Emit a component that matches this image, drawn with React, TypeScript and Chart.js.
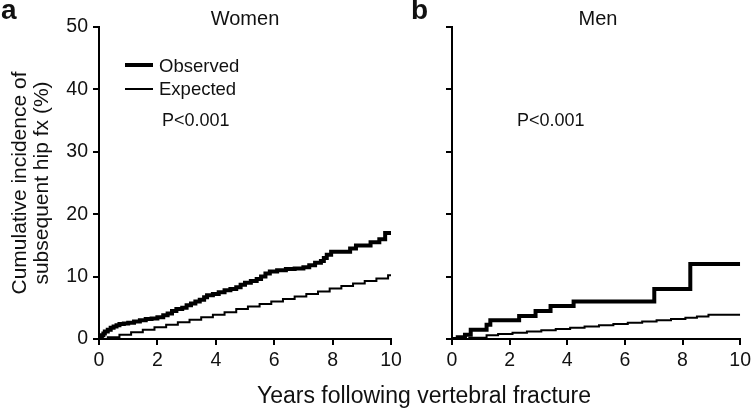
import React, { useEffect, useRef } from 'react';
import { Chart, registerables } from 'chart.js';

Chart.register(...registerables);

const FONT = '"Liberation Sans", Arial, Helvetica, sans-serif';
const INK = '#111111';

// ---- data (years following vertebral fracture, cumulative incidence %) ----
const xTickValues = [0, 2, 4, 6, 8, 10];
const yTickValues = [0, 10, 20, 30, 40, 50];

const womenObservedYears = [0, 0.05, 0.1, 0.15, 0.2, 0.3, 0.4, 0.5, 0.6, 0.7, 0.85, 1.0, 1.2, 1.4, 1.6, 1.8, 2.0, 2.2, 2.35, 2.5, 2.65, 2.85, 3.0, 3.15, 3.3, 3.45, 3.6, 3.7, 3.9, 4.1, 4.3, 4.5, 4.7, 4.85, 5.0, 5.2, 5.4, 5.55, 5.7, 5.85, 6.1, 6.4, 6.7, 7.0, 7.2, 7.4, 7.6, 7.7, 7.8, 7.95, 8.6, 8.8, 9.3, 9.6, 9.8, 10];
const womenObservedPct = [0, 0.3, 0.6, 0.9, 1.2, 1.5, 1.8, 2.0, 2.2, 2.4, 2.5, 2.6, 2.8, 3.0, 3.2, 3.3, 3.5, 3.8, 4.1, 4.5, 4.8, 5.0, 5.4, 5.7, 6.0, 6.3, 6.7, 7.0, 7.2, 7.5, 7.8, 8.0, 8.3, 8.7, 9.0, 9.3, 9.6, 10.0, 10.5, 10.8, 11.0, 11.2, 11.3, 11.5, 11.8, 12.2, 12.5, 13.0, 13.5, 14.0, 14.5, 15.0, 15.5, 16.0, 17.0, 17.0];

const womenExpectedYears = [0, 0.3, 0.7, 1.1, 1.5, 1.9, 2.3, 2.7, 3.1, 3.5, 3.9, 4.3, 4.7, 5.1, 5.5, 5.9, 6.3, 6.7, 7.1, 7.5, 7.9, 8.3, 8.7, 9.1, 9.5, 9.9, 10];
const womenExpectedPct = [0, 0.3, 0.7, 1.1, 1.5, 1.9, 2.3, 2.7, 3.1, 3.5, 3.9, 4.3, 4.8, 5.2, 5.6, 6.0, 6.4, 6.8, 7.2, 7.6, 8.1, 8.5, 8.9, 9.3, 9.7, 10.2, 10.2];

const menObservedYears = [0, 0.2, 0.45, 0.65, 1.2, 1.33, 2.33, 2.9, 3.42, 4.22, 7.02, 8.27, 10];
const menObservedPct = [0, 0.3, 0.7, 1.5, 2.3, 3.0, 3.7, 4.5, 5.3, 6.0, 8.0, 12.0, 12.0];

const menExpectedYears = [0, 0.6, 1.2, 1.6, 2.1, 2.6, 3.1, 3.6, 4.1, 4.6, 5.1, 5.6, 6.1, 6.6, 7.1, 7.6, 8.1, 8.5, 8.9, 10];
const menExpectedPct = [0, 0.2, 0.6, 0.8, 1.0, 1.2, 1.4, 1.6, 1.8, 2.0, 2.2, 2.4, 2.6, 2.8, 3.0, 3.2, 3.4, 3.6, 3.9, 3.9];

const yAxisTitle = ['Cumulative incidence of', 'subsequent hip fx (%)'];
const xAxisTitle = 'Years following vertebral fracture';

const toPoints = (xs: number[], ys: number[]) => xs.map((x, i) => ({ x, y: ys[i] }));

type PanelProps = {
  width: number;
  height: number;
  obsX: number[];
  obsY: number[];
  expX: number[];
  expY: number[];
  showYLabels: boolean;
  yAxisWidth: number;
  padRight: number;
};

function Panel(p: PanelProps) {
  const ref = useRef<HTMLCanvasElement | null>(null);
  useEffect(() => {
    if (!ref.current) return;
    const gridOpts = {
      drawOnChartArea: false,
      drawTicks: true,
      tickLength: 6,
      color: '#000',
      lineWidth: 2,
    };
    const chart = new Chart(ref.current, {
      type: 'line',
      data: {
        datasets: [
          {
            label: 'Observed',
            data: toPoints(p.obsX, p.obsY),
            borderColor: '#000',
            borderWidth: 4,
            stepped: 'before',
            pointRadius: 0,
            fill: false,
          },
          {
            label: 'Expected',
            data: toPoints(p.expX, p.expY),
            borderColor: '#000',
            borderWidth: 2,
            stepped: 'before',
            pointRadius: 0,
            fill: false,
          },
        ],
      },
      options: {
        animation: false,
        responsive: false,
        devicePixelRatio: 1,
        parsing: false,
        layout: { padding: { left: 0, right: p.padRight, top: 27, bottom: 30 } },
        plugins: { legend: { display: false }, tooltip: { enabled: false }, title: { display: false } },
        scales: {
          x: {
            type: 'linear',
            min: 0,
            max: 10,
            afterBuildTicks: (s: any) => {
              s.ticks = xTickValues.map((v) => ({ value: v }));
            },
            ticks: {
              font: { family: FONT, size: 19.5 },
              color: INK,
              padding: 4,
              maxRotation: 0,
              autoSkip: false,
            },
            grid: gridOpts,
            border: { display: true, color: '#000', width: 2 },
            afterFit: (s: any) => {
              s.height = 40;
            },
          },
          y: {
            type: 'linear',
            min: 0,
            max: 50,
            afterBuildTicks: (s: any) => {
              s.ticks = yTickValues.map((v) => ({ value: v }));
            },
            ticks: {
              display: p.showYLabels,
              font: { family: FONT, size: 19.5 },
              color: INK,
              padding: 5,
            },
            grid: gridOpts,
            border: { display: true, color: '#000', width: 2 },
            title: {
              display: p.showYLabels,
              text: yAxisTitle,
              font: { family: FONT, size: 21, lineHeight: 1.05 },
              color: INK,
              padding: { top: 9, bottom: 0 },
            },
            afterFit: (s: any) => {
              s.width = p.yAxisWidth;
            },
          },
        },
      },
    } as any);
    return () => chart.destroy();
  }, []);
  return <canvas ref={ref} width={p.width} height={p.height} style={{ display: 'block' }} />;
}

const txt = (extra: React.CSSProperties): React.CSSProperties => ({
  position: 'absolute',
  fontFamily: FONT,
  color: INK,
  whiteSpace: 'nowrap',
  lineHeight: 1,
  ...extra,
});

export default function App() {
  return (
    <div style={{ position: 'absolute', left: 0, top: 0, width: 755, height: 409, background: '#fff', overflow: 'hidden' }}>
      <div style={{ position: 'absolute', left: 0, top: 0 }}>
        <Panel
          width={420}
          height={409}
          obsX={womenObservedYears}
          obsY={womenObservedPct}
          expX={womenExpectedYears}
          expY={womenExpectedPct}
          showYLabels={true}
          yAxisWidth={99}
          padRight={29}
        />
      </div>
      <div style={{ position: 'absolute', left: 420, top: 0 }}>
        <Panel
          width={335}
          height={409}
          obsX={menObservedYears}
          obsY={menObservedPct}
          expX={menExpectedYears}
          expY={menExpectedPct}
          showYLabels={false}
          yAxisWidth={32}
          padRight={11}
        />
      </div>

      {/* panel letters */}
      <div style={txt({ left: 1, top: -4, fontSize: 28, fontWeight: 'bold' })}>a</div>
      <div style={txt({ left: 411, top: -4, fontSize: 28, fontWeight: 'bold' })}>b</div>

      {/* panel titles */}
      <div style={txt({ left: 145, width: 200, textAlign: 'center', top: 8, fontSize: 20 })}>Women</div>
      <div style={txt({ left: 498, width: 200, textAlign: 'center', top: 8, fontSize: 20 })}>Men</div>

      {/* legend */}
      <div style={{ position: 'absolute', left: 125, top: 63, width: 28, height: 4, background: '#000' }} />
      <div style={txt({ left: 159, top: 57, fontSize: 18.5 })}>Observed</div>
      <div style={{ position: 'absolute', left: 125, top: 88, width: 28, height: 2, background: '#000' }} />
      <div style={txt({ left: 159, top: 80, fontSize: 18.5 })}>Expected</div>

      {/* p-values */}
      <div style={txt({ left: 162, top: 111, fontSize: 18 })}>P&lt;0.001</div>
      <div style={txt({ left: 517, top: 111, fontSize: 18 })}>P&lt;0.001</div>

      {/* shared x-axis title */}
      <div style={txt({ left: 174, width: 500, textAlign: 'center', top: 384, fontSize: 23 })}>{xAxisTitle}</div>
    </div>
  );
}
